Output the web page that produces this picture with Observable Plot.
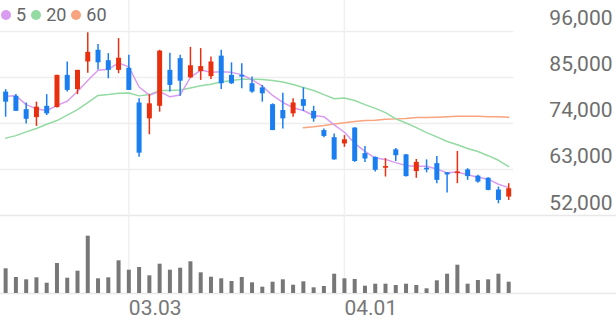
<!DOCTYPE html>
<html><head><meta charset="utf-8">
<script src="https://cdn.jsdelivr.net/npm/d3@7"></script>
<script src="https://cdn.jsdelivr.net/npm/@observablehq/plot@0.6"></script>
<style>
body{margin:0;background:#fff;}
#chart{position:relative;width:616px;height:321px;overflow:hidden;font-family:Roboto,sans-serif;}
#chart svg{display:block;}
#legend{position:absolute;top:5px;left:1px;display:flex;align-items:center;font-size:18px;color:#666;line-height:20px;}
.item{display:flex;align-items:center;margin-right:5px;}
.sw{width:10px;height:10px;border-radius:50%;margin-right:5px;}
</style></head><body><div id="chart"><div id="legend"></div></div>
<script>
const openP  = [81500,80500,77300,75400,78100,77800,85500,82100,88700,91500,89000,86700,87200,78900,75100,78100,86700,89500,84900,86400,85200,90100,85500,85500,83500,82500,78500,77100,76300,79700,76900,72300,70600,69100,72900,66800,65900,63300,67700,66500,62500,63300,64400,62200,62000,62900,61400,60900,58100,56400];
const highP  = [82100,80900,78900,79100,80900,85500,88700,86700,95700,92900,90700,94300,90300,79900,80900,91500,90800,90300,92200,91900,89900,91500,88500,88300,85100,83100,78700,81200,79900,82500,78100,72700,71500,71100,73000,68500,66000,65600,68000,66600,65400,65300,66100,62300,67300,63200,61600,61000,58800,59600];
const lowP   = [75500,76900,73900,73300,75900,77700,81500,80900,86000,86800,84700,85900,81900,65900,71300,76700,81500,80500,84800,84300,84500,82100,83300,82300,81200,79100,72300,72700,75500,76900,74300,70600,65200,68300,64700,64700,62400,61200,64900,61200,60900,62200,59600,57400,59600,60400,59700,57900,54800,55600];
const closeP = [79100,76900,75000,77900,76300,85500,81900,86700,91000,88500,86700,89600,81900,66900,78700,91300,83100,84100,87800,87600,88700,83500,83500,85100,81500,81100,72300,75100,78900,78100,75100,70900,65300,70100,64900,65500,62800,63700,66300,61300,64700,62900,60400,61700,62400,61300,60000,58000,55600,58400];
const volumeK = [1235,800,685,785,515,1500,765,1115,2865,735,785,1635,1165,1300,885,1465,1165,1265,1585,1035,815,735,600,800,535,315,565,685,415,585,285,350,965,735,700,365,465,465,400,465,400,235,635,965,1415,465,650,685,965,565];
const ma5  = [80500,80600,78500,77500,77040,78320,79320,81660,84280,86720,86960,88500,87540,82720,80760,81680,80380,80820,85000,86780,86260,86340,86220,85680,84460,82940,80700,79020,77780,77100,75900,75620,73660,71900,69260,67340,65720,65400,64640,63920,63760,63780,63120,62200,62420,61740,61160,60680,59460,58660];
const ma20 = [70500,71100,72000,72800,73800,74700,76000,77300,79000,80700,80900,81200,81300,80600,80900,81900,81900,82000,82500,83000,83400,83900,84300,84600,84600,84500,84300,83900,83300,82600,81900,80900,79900,80100,79500,78500,77600,76600,75100,74100,73000,71800,70800,69700,68900,68000,67300,66300,65200,63700];
const ma60 = [null,null,null,null,null,null,null,null,null,null,null,null,null,null,null,null,null,null,null,null,null,null,null,null,null,null,null,null,null,73000,73200,73500,73900,74200,74500,74700,74800,75000,75100,75200,75400,75400,75500,75600,75700,75700,75700,75600,75600,75500];
const yTicks = [52000,63000,74000,85000,96000];
const xTickIndex = [12,33];
const xTickLabels = ["03.03","04.01"];
const maNames = ["5","20","60"];
const maColors = ["#d99cf0","#93daa3","#f7a47f"];

const UP = "#e9300e", DOWN = "#1a7ef0";
const rows = openP.map((o,i)=>({i, open:o, high:highP[i], low:lowP[i], close:closeP[i], vol:volumeK[i], ma5:ma5[i], ma20:ma20[i], ma60:ma60[i], color: closeP[i] > o ? UP : DOWN}));
const xDomain = [-0.5, 59.5];
const lastX = 49.5;
const fmt = d3.format(",");

const price = Plot.plot({
  width:616, height:218, marginTop:0, marginBottom:3, marginLeft:0, marginRight:0,
  x:{domain:xDomain, axis:null},
  y:{domain:[52000,103400], axis:null},
  style:{fontFamily:"Roboto, sans-serif", overflow:"visible", background:"transparent"},
  marks:[
    Plot.ruleY(yTicks.slice(1), {x1:-0.5, x2:lastX, stroke:"#eeeeee", strokeWidth:1.5}),
    Plot.ruleY(yTicks.slice(0,1), {x1:xDomain[0], x2:xDomain[1], stroke:"#e8e8e8", strokeWidth:1.5}),
    Plot.ruleX(xTickIndex, {y1:51300, y2:103400, stroke:"#f0f0f0", strokeWidth:1.5}),
    Plot.line(rows.filter(d=>d.ma60!=null), {x:"i", y:"ma60", stroke:maColors[2], strokeWidth:1.5}),
    Plot.line(rows, {x:"i", y:"ma20", stroke:maColors[1], strokeWidth:1.5}),
    Plot.line(rows, {x:"i", y:"ma5", stroke:maColors[0], strokeWidth:1.5}),
    Plot.ruleX(rows, {x:"i", y1:"low", y2:"high", stroke:"color", strokeWidth:1.5}),
    Plot.ruleX(rows, {x:"i", y1:"open", y2:"close", stroke:"color", strokeWidth:5}),
    Plot.text(yTicks, {y:d=>d, text:d=>fmt(d), frameAnchor:"right", textAnchor:"end", lineAnchor:"bottom", dx:-4, dy:-6, fontSize:21, fill:"#6e6e6e"})
  ]
});

const vol = Plot.plot({
  width:616, height:103, marginTop:0, marginBottom:28, marginLeft:0, marginRight:0,
  x:{domain:xDomain, axis:null},
  y:{domain:[0,3750], axis:null},
  style:{fontFamily:"Roboto, sans-serif", overflow:"visible", background:"transparent"},
  marks:[
    Plot.ruleX(xTickIndex, {stroke:"#f0f0f0", strokeWidth:1.5}),
    Plot.ruleY([0], {x1:xDomain[0], x2:xDomain[1], stroke:"#e8e8e8", strokeWidth:1.5}),
    Plot.ruleX(rows, {x:"i", y1:0, y2:"vol", stroke:"#777777", strokeWidth:4}),
    Plot.text(xTickIndex, {x:d=>d, text:(d,i)=>xTickLabels[i], frameAnchor:"bottom", textAnchor:"start", lineAnchor:"middle", dy:15, fontSize:21, fill:"#777777"})
  ]
});

const chart = document.getElementById("chart");
chart.appendChild(price);
chart.appendChild(vol);
const legend = document.getElementById("legend");
maNames.forEach((n,k)=>{
  const it = document.createElement("div"); it.className="item";
  const sw = document.createElement("span"); sw.className="sw"; sw.style.background = maColors[k];
  const t = document.createElement("span"); t.textContent = n;
  it.appendChild(sw); it.appendChild(t); legend.appendChild(it);
});
</script></body></html>
